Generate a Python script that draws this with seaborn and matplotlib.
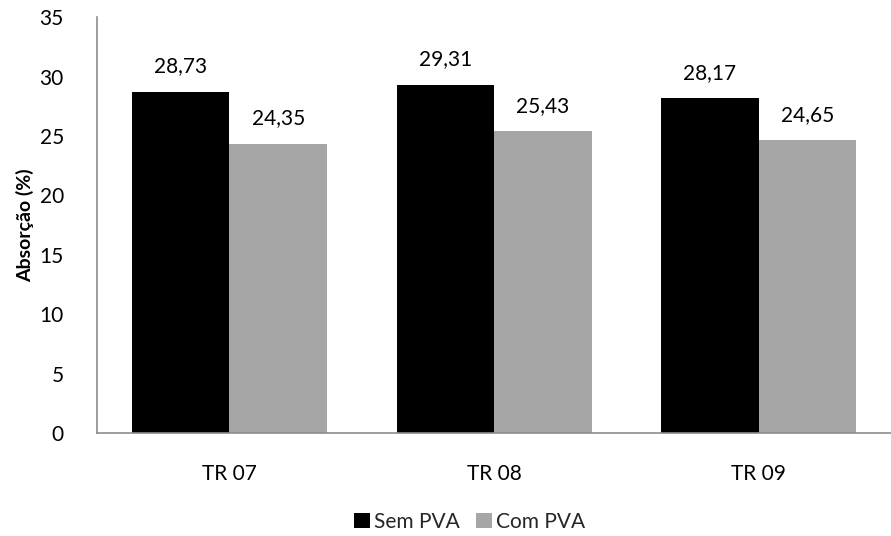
import matplotlib
matplotlib.use("Agg")
import matplotlib.pyplot as plt
import seaborn as sns
import pandas as pd
from matplotlib.patches import Patch

categories = ["TR 07", "TR 08", "TR 09"]
series = ["Sem PVA", "Com PVA"]
sem_pva = [28.73, 29.31, 28.17]
com_pva = [24.35, 25.43, 24.65]
yticks = [0, 5, 10, 15, 20, 25, 30, 35]

df = pd.DataFrame({
    "Traço": categories * 2,
    "Série": [series[0]] * 3 + [series[1]] * 3,
    "Absorção": sem_pva + com_pva,
})

sns.set_theme(style="white")
plt.rcParams["font.family"] = ["Lato", "DejaVu Sans"]

colors = {"Sem PVA": "#000000", "Com PVA": "#A6A6A6"}
fs = 15

fig = plt.figure(figsize=(8.91, 5.36), dpi=100)
ax = fig.add_axes([0.109, 0.192, 0.891, 0.776])

sns.barplot(data=df, x="Traço", y="Absorção", hue="Série", palette=colors,
            hue_order=series, order=categories, width=0.737, saturation=1,
            linewidth=0, ax=ax, legend=False)

for cont in ax.containers:
    ax.bar_label(cont, labels=[f"{b.get_height():.2f}".replace(".", ",") for b in cont],
                 padding=11, fontsize=fs, color="#000000")

ax.set_ylim(0, 35)
ax.set_yticks(yticks)
ax.set_yticklabels([str(t) for t in yticks], fontsize=fs)
ax.tick_params(axis="x", labelsize=fs, pad=22, length=0, colors="#000000")
ax.tick_params(axis="y", pad=24, length=0, colors="#000000")
ax.set_xlabel("")
ax.set_ylabel("Absorção (%)", fontsize=14, fontweight="bold", labelpad=4,
              color="#000000")

for s in ["top", "right"]:
    ax.spines[s].set_visible(False)
for s in ["left", "bottom"]:
    ax.spines[s].set_color("#8C8C8C")
    ax.spines[s].set_linewidth(1.2)

handles = [Patch(facecolor=colors[s], edgecolor="none", label=s) for s in series]
fig.legend(handles=handles, loc="center", bbox_to_anchor=(0.527, 0.026), ncol=2,
           frameon=False, fontsize=fs, handlelength=0.75, handleheight=0.75,
           handletextpad=0.2, columnspacing=0.8)

fig.savefig("out.png", dpi=100)
